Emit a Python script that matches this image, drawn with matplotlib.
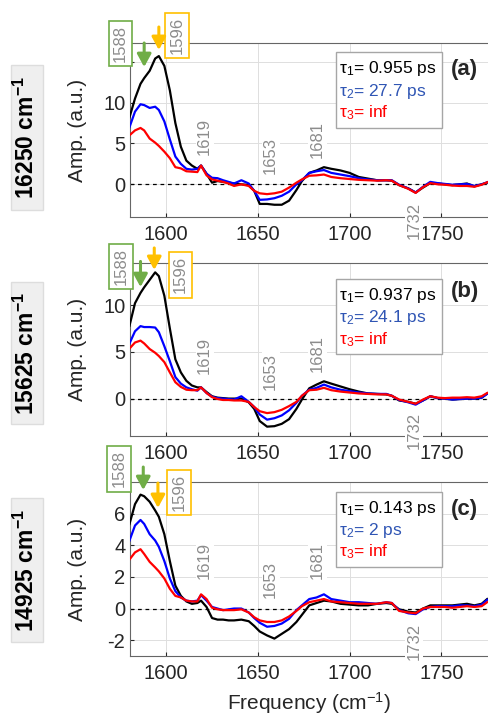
import numpy as np
import matplotlib
matplotlib.use("Agg")
import matplotlib.pyplot as plt
from matplotlib.patches import Rectangle

plt.rcParams["font.family"] = ["Liberation Sans", "DejaVu Sans"]
plt.rcParams["mathtext.fontset"] = "custom"
plt.rcParams["mathtext.rm"] = "Liberation Sans"
plt.rcParams["mathtext.it"] = "Liberation Sans:italic"
plt.rcParams["mathtext.bf"] = "Liberation Sans:bold"
plt.rcParams["axes.unicode_minus"] = False

# =========================================================
# DATA
# =========================================================
freq = [1580, 1583, 1586, 1588, 1591, 1594, 1596, 1599, 1602, 1605,
        1608, 1611, 1614, 1617, 1619, 1622, 1625, 1628, 1631, 1634,
        1637, 1641, 1645, 1648, 1651, 1655, 1659, 1663, 1667, 1671,
        1674, 1678, 1682, 1686, 1690, 1695, 1700, 1705, 1710, 1715,
        1720, 1723, 1727, 1732, 1736, 1740, 1744, 1748, 1752, 1756,
        1760, 1764, 1768, 1772, 1775]

# panel (a) 16250 cm-1
a_tau1 = [8.2, 10.5, 12.3, 13.0, 13.9, 15.4, 15.7, 14.5, 11.5, 7.5,
          4.6, 2.9, 2.3, 1.9, 2.3, 1.3, 0.2, 0.4, 0.3, 0.2,
          0.1, 0.0, -0.1, -0.8, -2.4, -2.4, -2.5, -2.5, -2.0, -0.7,
          0.4, 1.4, 1.7, 2.1, 1.9, 1.7, 1.4, 0.9, 0.7, 0.5,
          0.5, 0.45, -0.1, -0.5, -1.0, -0.4, 0.15, 0.1, 0.0, -0.1,
          0.0, 0.1, -0.25, 0.0, 0.2]
a_tau2 = [7.0, 8.9, 9.8, 9.7, 9.35, 9.5, 9.1, 7.7, 5.5, 3.4,
          2.5, 1.9, 1.8, 1.9, 2.3, 1.3, 0.8, 0.75, 0.5, 0.3,
          0.1, 0.5, 0.1, -0.8, -1.9, -1.85, -1.7, -1.4, -0.9, 0.0,
          0.5, 1.4, 1.6, 1.75, 1.4, 1.2, 1.0, 0.75, 0.6, 0.5,
          0.5, 0.5, -0.05, -0.5, -1.0, -0.3, 0.3, 0.15, 0.05, -0.05,
          0.0, 0.05, -0.2, 0.0, 0.25]
a_tau3 = [6.0, 6.6, 6.9, 6.6, 5.6, 5.1, 4.7, 4.0, 3.2, 2.1,
          1.95, 1.6, 1.55, 1.5, 2.3, 1.1, 0.6, 0.45, 0.3, 0.1,
          -0.2, 0.0, -0.2, -0.8, -1.1, -1.2, -1.1, -0.9, -0.4, 0.2,
          0.6, 1.05, 1.1, 1.2, 0.9, 0.75, 0.65, 0.55, 0.5, 0.45,
          0.5, 0.45, -0.1, -0.55, -1.05, -0.35, 0.15, 0.0, -0.05, -0.15,
          -0.2, -0.2, -0.3, -0.05, 0.25]

# panel (b) 15625 cm-1
b_tau1 = [7.8, 10.2, 11.3, 11.9, 12.7, 13.5, 13.1, 11.0, 7.5, 4.2,
          2.8, 1.9, 1.4, 1.2, 1.2, 0.7, 0.25, 0.1, 0.05, 0.0,
          0.0, 0.0, -0.4, -1.1, -2.4, -3.0, -2.95, -2.7, -2.2, -1.1,
          -0.1, 1.1, 1.5, 1.85, 1.6, 1.3, 1.0, 0.75, 0.55, 0.5,
          0.45, 0.3, -0.2, -0.35, -0.55, -0.2, 0.25, 0.05, 0.0, -0.1,
          -0.05, 0.0, 0.0, 0.1, 0.55]
b_tau2 = [5.9, 7.2, 7.75, 7.65, 7.65, 7.6, 7.1, 5.6, 4.0, 2.3,
          1.6, 1.2, 1.0, 0.85, 1.2, 0.6, 0.2, 0.05, 0.0, -0.05,
          -0.1, 0.25, -0.35, -0.9, -1.7, -2.25, -2.1, -1.8, -1.25, -0.45,
          0.3, 0.95, 1.15, 1.5, 1.2, 0.95, 0.8, 0.65, 0.55, 0.5,
          0.5, 0.3, -0.15, -0.4, -0.65, -0.2, 0.25, 0.05, 0.0, -0.1,
          -0.05, 0.0, 0.0, 0.1, 0.5]
b_tau3 = [5.35, 6.0, 6.2, 5.9, 5.3, 4.9, 4.55, 3.9, 2.8, 1.75,
          1.25, 0.95, 0.9, 0.9, 1.2, 0.6, 0.15, -0.05, -0.15, -0.15,
          -0.2, -0.2, -0.35, -0.9, -1.35, -1.55, -1.45, -1.2, -0.8, -0.35,
          0.3, 0.9, 0.95, 1.15, 0.9, 0.75, 0.65, 0.55, 0.5, 0.45,
          0.45, 0.3, -0.1, -0.35, -0.55, -0.1, 0.25, 0.1, 0.05, 0.1,
          0.1, 0.15, 0.1, 0.25, 0.6]

# panel (c) 14925 cm-1
c_tau1 = [5.35, 6.6, 7.2, 7.1, 6.75, 6.2, 5.8, 4.7, 3.0, 1.45,
          0.8, 0.45, 0.3, 0.35, 0.5, 0.1, -0.6, -0.7, -0.7, -0.75,
          -0.75, -0.7, -0.8, -1.1, -1.45, -1.7, -1.9, -1.6, -1.3, -0.85,
          -0.4, 0.2, 0.35, 0.5, 0.45, 0.3, 0.25, 0.2, 0.2, 0.3,
          0.35, 0.3, -0.05, -0.2, -0.25, 0.0, 0.2, 0.2, 0.2, 0.2,
          0.25, 0.3, 0.2, 0.3, 0.6]
c_tau2 = [4.3, 5.25, 5.6, 5.35, 4.7, 4.3, 3.9, 3.0, 1.9, 1.1,
          0.7, 0.5, 0.45, 0.5, 0.85, 0.5, 0.1, 0.0, -0.1, -0.05,
          0.0, 0.0, -0.25, -0.6, -0.9, -1.15, -1.1, -0.95, -0.65, -0.1,
          0.2, 0.6, 0.7, 0.9, 0.6, 0.5, 0.4, 0.4, 0.35, 0.3,
          0.4, 0.35, -0.1, -0.3, -0.35, -0.05, 0.1, 0.15, 0.15, 0.15,
          0.2, 0.2, 0.15, 0.25, 0.55]
c_tau3 = [3.1, 3.55, 3.75, 3.45, 2.95, 2.6, 2.35, 1.9, 1.25, 0.8,
          0.7, 0.5, 0.45, 0.45, 0.9, 0.6, 0.05, -0.05, -0.1, -0.1,
          -0.1, -0.05, -0.25, -0.55, -0.75, -0.85, -0.85, -0.75, -0.5, -0.15,
          0.15, 0.4, 0.5, 0.6, 0.45, 0.4, 0.35, 0.3, 0.3, 0.3,
          0.4, 0.35, -0.15, -0.25, -0.3, 0.0, 0.1, 0.1, 0.1, 0.05,
          0.1, 0.15, 0.1, 0.15, 0.4]

excitation = ["16250", "15625", "14925"]
tau1_text = ["0.955", "0.937", "0.143"]
tau2_text = ["27.7", "24.1", "2"]
panel_tags = ["(a)", "(b)", "(c)"]
peak_labels = [1619, 1653, 1681, 1732]
mark_labels = [1588, 1596]

curves = [(a_tau1, a_tau2, a_tau3), (b_tau1, b_tau2, b_tau3), (c_tau1, c_tau2, c_tau3)]

# =========================================================
# LAYOUT (pixel gambar 489 x 716)
# =========================================================
W, H = 489, 716
AX_LEFT = 129.5
ax_top = [43, 263, 482]
ax_bot = [217, 436, 656]
ylims = [(-4, 17.3), (-4, 14.5), (-3, 8)]
yticks = [[0, 5, 10, 15], [0, 5, 10], [-2, 0, 2, 4, 6]]
ytick_labels = [["0", "5", "10", ""], ["0", "5", "10"], ["-2", "0", "2", "4", "6"]]

legend_box = [(0.511, 0.948), (0.474, 0.906), (0.513, 0.944)]
legend_rows = [[0.855, 0.720, 0.598], [0.815, 0.684, 0.555], [0.849, 0.724, 0.599]]
tag_y = [0.845, 0.834, 0.843]
peak_dx = [2, 4, 1.5, 3]
peak_y = [[0.465, 0.356, 0.448, -0.017], [0.468, 0.372, 0.474, 0.035],
          [0.552, 0.437, 0.546, 0.086]]
green_box = [(1575.1, 0.997), (1575.4, 0.979), (1574.3, 1.075)]
orange_box = [(1605.9, 1.043), (1607.8, 0.931), (1607.0, 0.940)]
green_arrow = [(1588, 1.0, 0.862), (1586, 1.009, 0.861), (1587.5, 1.086, 0.954)]
orange_arrow = [(1596, 1.092, 0.960), (1593.5, 1.087, 0.960), (1595.5, 0.994, 0.851)]
side_box = [(65, 210), (282, 424), (498, 642)]

GREEN = "#70ad47"
ORANGE = "#ffc000"
GREY_TXT = "#8c8c8c"
TXT = "#262626"

fig = plt.figure(figsize=(W / 100, H / 100), dpi=100)

for i in range(3):
    ax = fig.add_axes([AX_LEFT / W, 1 - ax_bot[i] / H, (W - AX_LEFT) / W,
                       (ax_bot[i] - ax_top[i]) / H])
    black, blue, red = curves[i]
    ax.axhline(0, color="k", lw=0.9, ls=(0, (3, 3)), zorder=2)
    ax.plot(freq, black, color="k", lw=1.6, zorder=3)
    ax.plot(freq, blue, color="#0000ff", lw=1.6, zorder=3)
    ax.plot(freq, red, color="#ff0000", lw=1.6, zorder=3)

    ax.set_xlim(1580, 1776)
    ax.set_ylim(*ylims[i])
    ax.set_xticks([1600, 1650, 1700, 1750])
    ax.set_yticks(yticks[i])
    ax.set_yticklabels(ytick_labels[i])
    ax.grid(True, color="#dedede", lw=0.7)
    ax.set_axisbelow(True)
    for s in ax.spines.values():
        s.set_color("#666666")
        s.set_linewidth(0.8)
    ax.tick_params(direction="in", length=3, labelsize=14.5, colors=TXT)
    ax.tick_params(axis="x", pad=6)
    ax.tick_params(axis="y", pad=3)
    ax.set_ylabel("Amp. (a.u.)", fontsize=15, color=TXT)
    ax.yaxis.set_label_coords(-0.118, 0.5)

    # kotak tau
    y0, y1 = legend_box[i]
    ax.add_patch(Rectangle((0.574, y0), 0.295, y1 - y0, transform=ax.transAxes,
                           fc="white", ec="#a6a6a6", lw=1, zorder=5))
    rows = [("τ$_1$= " + tau1_text[i] + " ps", "black"),
            ("τ$_2$= " + tau2_text[i] + " ps", "#2f55b4"),
            ("τ$_3$= inf", "#ff0000")]
    for (txt, col), yy in zip(rows, legend_rows[i]):
        ax.text(0.583, yy, txt, transform=ax.transAxes, fontsize=12.5, color=col,
                va="center", ha="left", zorder=6)
    ax.text(0.933, tag_y[i], panel_tags[i], transform=ax.transAxes, fontsize=16,
            weight="bold", ha="center", va="center", color=TXT, zorder=6)

    # label puncak (abu-abu, vertikal)
    trans = ax.get_xaxis_transform()
    for p, dx, yy in zip(peak_labels, peak_dx, peak_y[i]):
        ax.text(p + dx, yy, str(p), transform=trans, rotation=90, fontsize=12,
                color=GREY_TXT, ha="center", va="center", clip_on=False, zorder=6,
                bbox=dict(boxstyle="square,pad=0.1", fc="white", ec="none"))

    # kotak 1588 / 1596 + panah
    for (bx, by), col, lab in [(green_box[i], GREEN, mark_labels[0]),
                               (orange_box[i], ORANGE, mark_labels[1])]:
        ax.text(bx, by, str(lab), transform=trans, rotation=90, fontsize=12,
                color=GREY_TXT, ha="center", va="center", clip_on=False, zorder=7,
                bbox=dict(boxstyle="square,pad=0.25", fc="white", ec=col, lw=1.2))
    for (axx, yt, yh), col in [(green_arrow[i], GREEN), (orange_arrow[i], ORANGE)]:
        ax.annotate("", xy=(axx, yh), xytext=(axx, yt), xycoords=trans,
                    annotation_clip=False, zorder=7,
                    arrowprops=dict(arrowstyle="-|>,head_width=0.3,head_length=0.55",
                                    color=col, lw=2.2, mutation_scale=14,
                                    shrinkA=0, shrinkB=0))

    # label eksitasi di kiri
    yb0, yb1 = side_box[i]
    fig.add_artist(Rectangle((10.7 / W, 1 - yb1 / H), 32 / W, (yb1 - yb0) / H,
                             transform=fig.transFigure, fc="#efefef", ec="#dddddd", lw=1))
    fig.text(26.8 / W, 1 - (yb0 + yb1) / 2 / H,
             excitation[i] + " cm$^{\\mathbf{-1}}$", rotation=90, fontsize=16.5,
             weight="bold", ha="center", va="center", color="black")

    if i == 2:
        ax.set_xlabel("Frequency (cm$^{-1}$)", fontsize=15, color=TXT, labelpad=5)

plt.savefig("out.png", dpi=100)
plt.close()
